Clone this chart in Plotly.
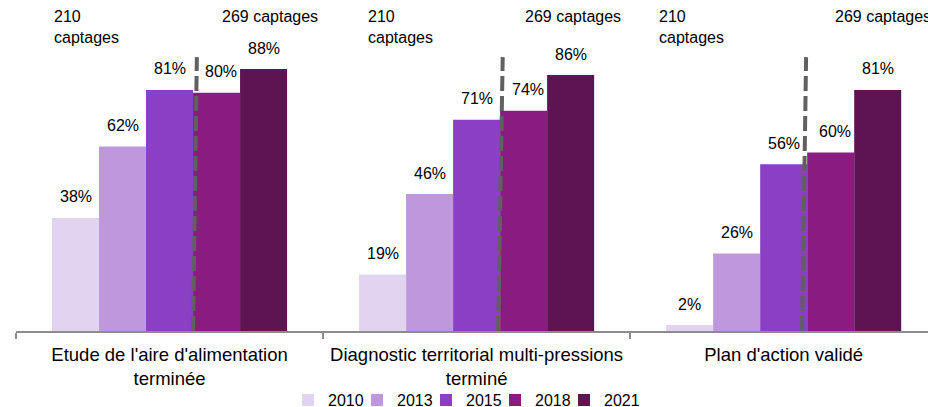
import plotly.graph_objects as go

categories = ["Etude de l'aire d'alimentation<br>terminée",
              "Diagnostic territorial multi-pressions<br>terminé",
              "Plan d'action validé"]
years = ["2010", "2013", "2015", "2018", "2021"]
values = {
    "2010": [38, 19, 2],
    "2013": [62, 46, 26],
    "2015": [81, 71, 56],
    "2018": [80, 74, 60],
    "2021": [88, 86, 81],
}
colors = ["#E2D3F1", "#BF97DD", "#8B3FC4", "#8A1C7F", "#5E1453"]
note_left = "210<br>captages"
note_right = "269 captages"

FONT = "Liberation Sans, Arial, sans-serif"
fig = go.Figure()
xs = [0, 1, 2]
legend_names = ["legend"] + [f"legend{k}" for k in range(2, len(years) + 1)]
for yr, col, lg in zip(years, colors, legend_names):
    fig.add_trace(go.Bar(x=categories, y=values[yr], name=yr, marker=dict(color=col, line=dict(width=0)),
                         hoverinfo="skip", legend=lg))

bargap = 0.2345
bw = (1 - bargap) / len(years)
for i, yr in enumerate(years):
    off = (i - 2) * bw
    for c, v in zip(xs, values[yr]):
        fig.add_annotation(x=c + off, y=v, text=f"{v}%", showarrow=False, xref="x", yref="y",
                           yshift=21, xshift=4 if yr == "2018" else 0,
                           font=dict(size=16, color="#000", family=FONT))

# dashed separators between 2015 and 2018
dash_bot = [0.0765, 0.070, 0.060]
dash_top = [0.089, 0.085, 0.073]
for c in xs:
    fig.add_shape(type="line", xref="x", yref="y", x0=c + dash_bot[c], x1=c + dash_top[c],
                  y0=0, y1=92, line=dict(color="#606060", width=4, dash="15px,5px"), layer="above")

left_off = [-0.383, -0.360, -0.412]
right_off = [0.164, 0.151, 0.161]
for c in xs:
    fig.add_annotation(x=c + left_off[c], y=105.5, text=note_left, showarrow=False, xref="x", yref="y",
                       xanchor="left", yanchor="top", yshift=11, align="left",
                       font=dict(size=16, color="#000", family=FONT))
    fig.add_annotation(x=c + right_off[c], y=105.5, text=note_right, showarrow=False, xref="x", yref="y",
                       xanchor="left", yanchor="middle", align="left",
                       font=dict(size=16, color="#000", family=FONT))

layout_legends = {}
for k, lg in enumerate(legend_names):
    layout_legends[lg] = dict(
        orientation="h", x=(288 + 69 * k) / 928, xanchor="left", xref="container",
        y=0.017, yanchor="middle", yref="container",
        font=dict(size=16, color="#000", family=FONT), itemwidth=30,
        bgcolor="rgba(0,0,0,0)")

fig.update_layout(
    width=928, height=407,
    margin=dict(l=16, r=0, t=0, b=76, autoexpand=False),
    barmode="group", bargap=bargap, bargroupgap=0,
    plot_bgcolor="white", paper_bgcolor="white",
    showlegend=True,
    xaxis=dict(type="category", range=[-0.5, 2.47], automargin=False,
               showline=True, linecolor="#8C8C8C", linewidth=1.5, ticks="outside",
               tickson="boundaries", tickcolor="#8C8C8C", ticklen=6, tickwidth=1.5,
               ticklabelstandoff=6,
               showgrid=False, zeroline=False,
               tickfont=dict(size=18.5, color="#000", family=FONT)),
    yaxis=dict(range=[0, 111.2], visible=False, showgrid=False, zeroline=False, automargin=False),
    **layout_legends,
)
fig.write_html("out.html", config={"displayModeBar": False},
               post_script="document.body.style.margin='0';document.body.style.padding='0';")
